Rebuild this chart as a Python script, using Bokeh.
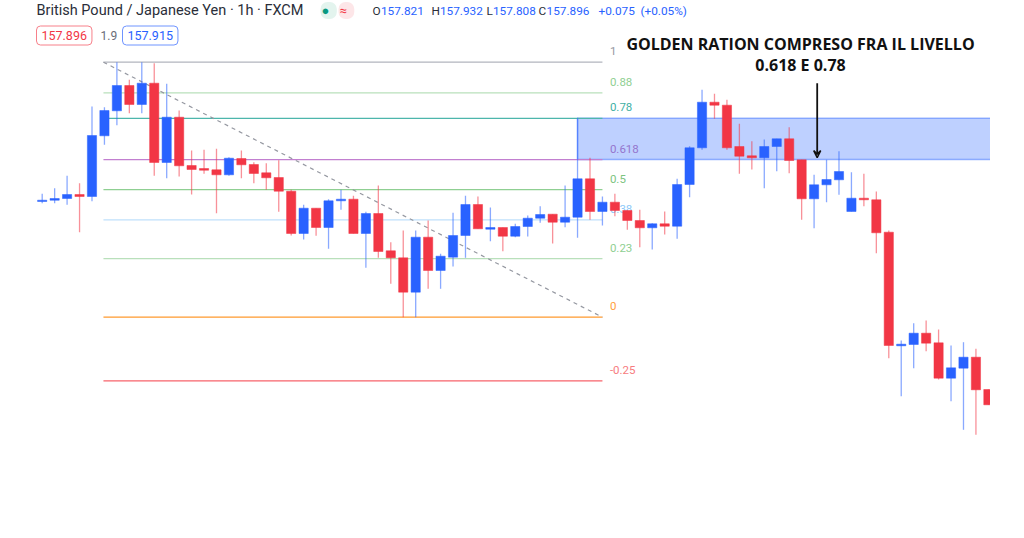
import numpy as np
from bokeh.plotting import figure
from bokeh.models import Range1d, Label, Arrow, VeeHead, ColumnDataSource
from bokeh.core.properties import value
from bokeh.embed import file_html
from bokeh.resources import INLINE

# ---------------- data (GBP/JPY, 1h candles) ----------------
opens = [159.930, 159.943, 159.960, 160.000, 159.980, 160.587, 160.837, 161.090, 160.900, 161.113,
         160.320, 160.773, 160.290, 160.260, 160.247, 160.197, 160.360, 160.300, 160.217, 160.170,
         160.033, 159.610, 159.863, 159.670, 159.937, 159.953, 159.610, 159.810, 159.437, 159.367,
         159.023, 159.573, 159.240, 159.373, 159.590, 159.900, 159.653, 159.670, 159.583, 159.680,
         159.763, 159.803, 159.723, 159.773, 160.157, 159.830, 159.923, 159.840, 159.740, 159.667,
         159.707, 159.683, 160.100, 160.467, 160.923, 160.893, 160.480, 160.387, 160.367, 160.480,
         160.557, 160.347, 159.957, 160.097, 160.147, 159.830, 159.963, 159.947, 159.623, 158.487,
         158.500, 158.613, 158.517, 158.163, 158.263, 158.373, 158.050]
highs = [160.007, 160.063, 160.187, 160.113, 160.880, 160.873, 161.323, 161.147, 161.323, 161.313,
         161.107, 160.840, 160.440, 160.447, 160.457, 160.373, 160.440, 160.323, 160.313, 160.343,
         160.047, 159.897, 159.863, 159.953, 160.047, 159.987, 159.827, 160.090, 159.523, 159.640,
         159.640, 159.740, 159.407, 159.817, 159.987, 159.980, 159.870, 159.670, 159.707, 159.790,
         159.883, 159.803, 160.090, 160.767, 160.367, 159.980, 160.007, 159.840, 159.847, 159.713,
         159.830, 160.157, 160.483, 161.047, 161.007, 160.947, 160.707, 160.533, 160.550, 160.557,
         160.673, 160.347, 160.197, 160.347, 160.433, 160.223, 160.207, 160.030, 159.640, 158.540,
         158.713, 158.740, 158.650, 158.490, 158.523, 158.457, 158.050]
lows = [159.913, 159.913, 159.897, 159.623, 159.933, 160.497, 160.693, 160.813, 160.813, 160.187,
        160.163, 160.180, 160.000, 160.207, 159.813, 160.187, 160.163, 160.113, 160.047, 159.827,
        159.590, 159.550, 159.587, 159.457, 159.847, 159.610, 159.267, 159.367, 159.107, 158.773,
        158.773, 159.057, 159.057, 159.280, 159.367, 159.657, 159.533, 159.433, 159.573, 159.580,
        159.717, 159.510, 159.673, 159.567, 159.747, 159.690, 159.783, 159.647, 159.473, 159.450,
        159.600, 159.557, 159.973, 160.447, 160.757, 160.447, 160.207, 160.250, 160.063, 160.233,
        160.213, 159.747, 159.663, 159.923, 159.997, 159.830, 159.883, 159.413, 158.363, 157.983,
        158.263, 158.433, 158.150, 157.933, 157.647, 157.597, 157.897]
closes = [159.943, 159.960, 160.000, 159.980, 160.590, 160.840, 161.090, 160.900, 161.113, 160.320,
          160.773, 160.287, 160.250, 160.243, 160.197, 160.363, 160.297, 160.210, 160.167, 160.033,
          159.610, 159.863, 159.670, 159.937, 159.953, 159.610, 159.810, 159.430, 159.367, 159.023,
          159.573, 159.240, 159.383, 159.590, 159.900, 159.657, 159.670, 159.583, 159.680, 159.763,
          159.800, 159.723, 159.773, 160.157, 159.830, 159.923, 159.840, 159.740, 159.667, 159.707,
          159.683, 160.100, 160.467, 160.923, 160.893, 160.467, 160.383, 160.367, 160.480, 160.557,
          160.340, 159.957, 160.097, 160.150, 160.230, 159.963, 159.947, 159.617, 158.490, 158.503,
          158.613, 158.513, 158.163, 158.267, 158.373, 158.047, 157.897]

# Fibonacci retracement drawing (anchors: bar index / price)
swing_high = 161.323
swing_low = 158.773
fib_x_start = 4.92
fib_x_end = 45.0
fib_levels = [1, 0.88, 0.78, 0.618, 0.5, 0.382, 0.23, 0, -0.25]
fib_texts = ["1", "0.88", "0.78", "0.618", "0.5", "0.38", "0.23", "0", "-0.25"]
fib_line_colors = ["#b2b5be", "#b9e0bb", "#4db6ac", "#c27fd0", "#8fcf92", "#bfe0fb", "#b9e0bb", "#ff9a2e", "#f7636b"]
fib_text_colors = ["#9598a1", "#8fcf92", "#3fb0a4", "#9575cd", "#7cc47f", "#90caf9", "#8fcf92", "#ffa040", "#f77c80"]

# golden zone rectangle & arrow
zone_x_start = 43.0
zone_x_end = 80.0
arrow_x = 62.25
arrow_y_top = 161.113

# header
symbol_title = "British Pound / Japanese Yen · 1h · FXCM"
ohlc_letters = ["O", "H", "L", "C"]
ohlc_values = ["157.821", "157.932", "157.808", "157.896"]
change_text = "+0.075"
change_pct = "(+0.05%)"
bid_price = "157.896"
spread_text = "1.9"
ask_price = "157.915"
note_line1 = "GOLDEN RATION COMPRESO FRA IL LIVELLO"
note_line2 = "0.618 E 0.78"

BLUE = "#2962ff"
RED = "#f23645"

# ---------------- figure ----------------
W, H = 990, 536
p = figure(width=W, height=H, output_backend="svg", toolbar_location=None,
           x_range=Range1d(-3.349, 76.17), y_range=Range1d(156.58, 161.94),
           min_border=0, background_fill_color="white", border_fill_color="white")
p.axis.visible = False
p.grid.visible = False
p.outline_line_color = None

# zone rectangle
rng = swing_high - swing_low
lvl_prices = [swing_low + l * rng for l in fib_levels]
z_top = swing_low + 0.78 * rng
z_bot = swing_low + 0.618 * rng
p.quad(left=[zone_x_start], right=[zone_x_end], top=[z_top], bottom=[z_bot],
       fill_color=BLUE, fill_alpha=0.3, line_color=BLUE, line_alpha=0.45, line_width=1.5)

# fib lines
p.segment(x0=[fib_x_start] * len(fib_levels), x1=[fib_x_end] * len(fib_levels),
          y0=lvl_prices, y1=lvl_prices, line_color=fib_line_colors, line_width=1.3)
# trend line (dashed)
p.line(x=[fib_x_start, fib_x_end], y=[swing_high, swing_low], line_color="#9598a1",
       line_dash="4 4", line_width=1.2)

# fib labels
p.text(x=[fib_x_end + 0.6] * len(fib_levels), y=lvl_prices, text=fib_texts,
       text_color=fib_text_colors, text_font=value("Roboto"), text_font_size="11.5px",
       text_baseline="bottom", text_align="left", y_offset=-7)

# candles
idx = np.arange(len(opens))
o = np.array(opens); c = np.array(closes)
cols = [BLUE if cc >= oo else RED for oo, cc in zip(opens, closes)]
src = ColumnDataSource(dict(x=idx, o=o, c=c, h=highs, l=lows,
                            top=np.maximum(o, c), bot=np.minimum(o, c), col=cols))
p.segment(x0="x", x1="x", y0="h", y1="l", source=src, line_color="col", line_alpha=0.55, line_width=1.3)
p.vbar(x="x", width=0.74, top="top", bottom="bot", source=src,
       fill_color="col", line_color="col", line_alpha=0.5, line_width=1)

# arrow
p.add_layout(Arrow(end=VeeHead(size=7, line_color="#111111", line_width=1.5, fill_color=None),
                   x_start=arrow_x, y_start=arrow_y_top, x_end=arrow_x, y_end=z_bot + 0.02,
                   line_color="#111111", line_width=1.8))

# header / annotation labels (screen positions measured from top-left)
def lab(x, y, text, color, size="13px", font="Roboto", align="left", **kw):
    p.add_layout(Label(x=x, y=H - y, x_units="screen", y_units="screen", text=text,
                       text_align=align, text_baseline="middle", text_font=font,
                       text_font_size=size, text_color=color, **kw))

lab(800, 43, note_line1, "#111111", size="16px", font="Open Sans", align="center",
    text_font_style="bold")
lab(800, 64, note_line2, "#111111", size="16px", font="Open Sans", align="center",
    text_font_style="bold")

lab(36, 10, symbol_title, "#2a2e39", size="14.5px")
lab(320, 10, " \u25cf ", "#089981", size="13px", background_fill_color="#e3f4ee",
    padding=1, border_radius=7)
lab(338, 10, " \u2248 ", RED, size="13px", background_fill_color="#fde6e8",
    padding=1, border_radius=7)
letter_x = [372, 431, 486, 538]
letter_w = [8.4, 8.4, 6.4, 8.0]
for lx, lw, L, v in zip(letter_x, letter_w, ohlc_letters, ohlc_values):
    lab(lx, 10, L, "#2a2e39", size="11.8px")
    lab(lx + lw, 10, v, BLUE, size="11.8px")
lab(598, 10, change_text, BLUE, size="11.8px")
lab(640, 10, change_pct, BLUE, size="11.8px")

lab(36, 35, bid_price, RED, size="12.5px", background_fill_color="white",
    border_line_color="#f7808a", border_line_width=1, padding=5, border_radius=4)
lab(100, 35, spread_text, "#6a6d78", size="12px")
lab(122, 35, ask_price, BLUE, size="12.5px", background_fill_color="white",
    border_line_color="#6f94ff", border_line_width=1, padding=5, border_radius=4)

open("out.html", "w").write(file_html(p, INLINE))
